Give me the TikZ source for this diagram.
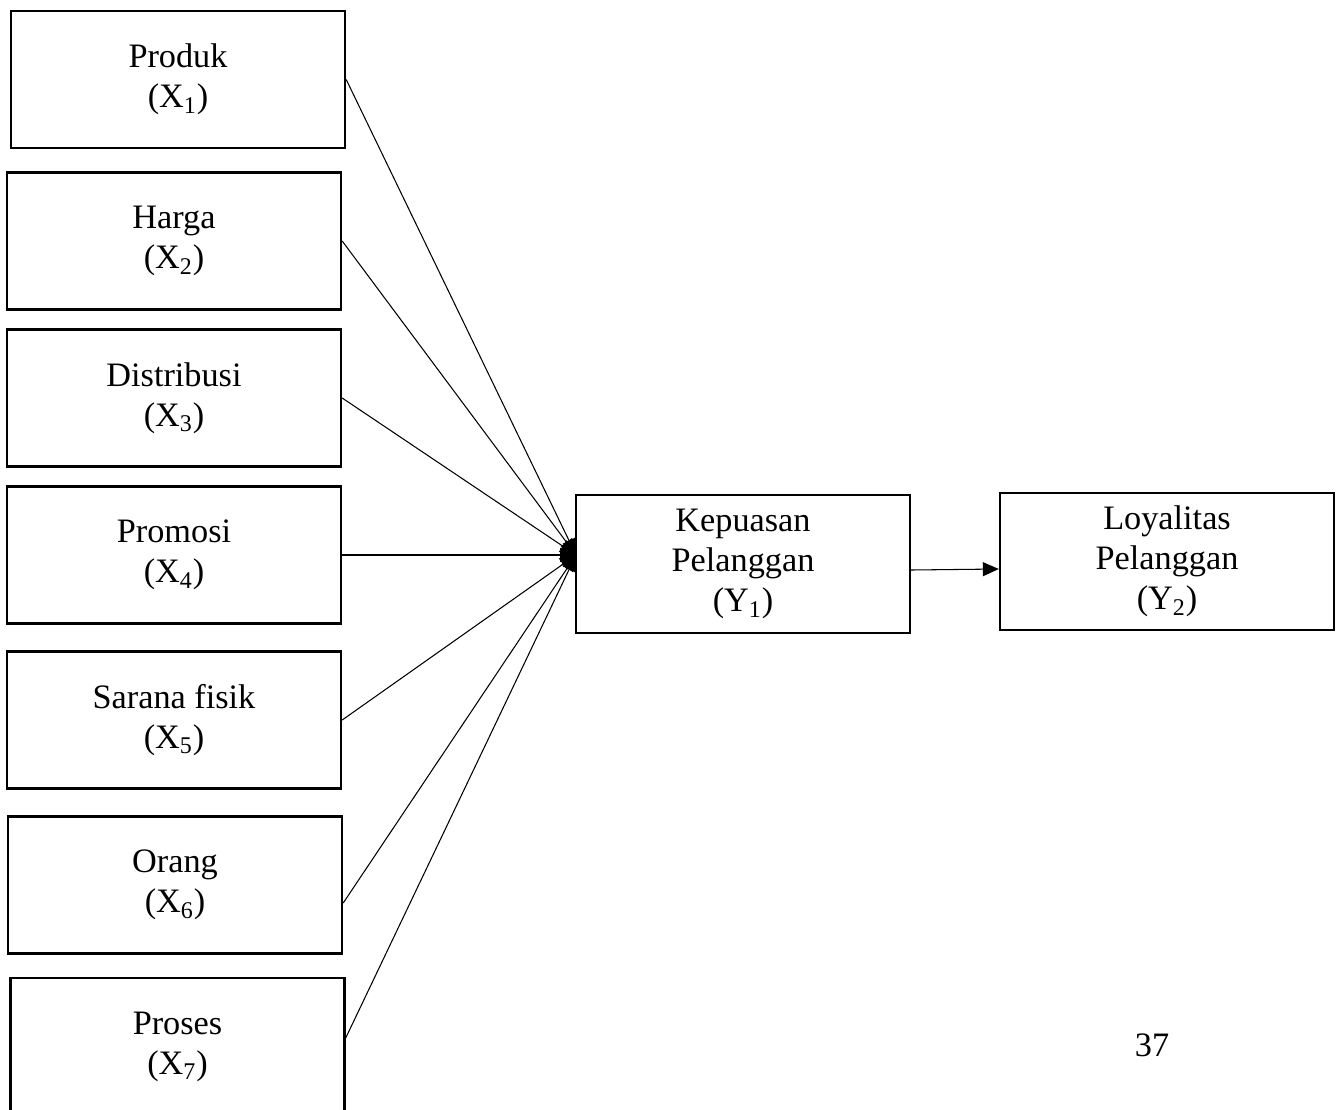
\documentclass[tikz,border=0pt]{standalone}
\usepackage{fontspec}
\setmainfont{Liberation Serif}
\usepackage{tikz}
\usetikzlibrary{arrows.meta}

\begin{document}
\begin{tikzpicture}[x=0.02cm, y=-0.02cm,
    var/.style = {draw, line width=1.4pt, minimum width=6.68cm, minimum height=2.74cm,
                  align=center, font=\fontsize{19.5}{22.8}\selectfont},
    link/.style = {line width=0.6pt, -{Triangle[length=0.32cm, width=0.28cm]}}]
\useasboundingbox (0,0) rectangle (1341,1109);
\node[var] (X_1) at (178,79.5) {Produk\\(X\textsubscript{1})};
\node[var] (X_2) at (174,241) {Harga\\(X\textsubscript{2})};
\node[var] (X_3) at (174,398) {Distribusi\\(X\textsubscript{3})};
\node[var] (X_4) at (174,555) {Promosi\\(X\textsubscript{4})};
\node[var] (X_5) at (174,720) {Sarana fisik\\(X\textsubscript{5})};
\node[var] (X_6) at (175,885) {Orang\\(X\textsubscript{6})};
\node[var] (X_7) at (177.5,1046.5) {Proses\\(X\textsubscript{7})};
\node[var, minimum height=2.76cm] (Y_1) at (743,564) {Kepuasan\\Pelanggan\\(Y\textsubscript{1})};
\node[var] (Y_2) at (1167,561.5) {Loyalitas\\Pelanggan\\(Y\textsubscript{2})};
\node[font=\fontsize{19.5}{22.8}\selectfont] (page) at (1152,1045) {37};
\coordinate (hub) at (576,555);

\path[link] (X_1.east) edge (hub)
    (X_2.east) edge (hub)
    (X_3.east) edge (hub)
    (X_4.east) edge (hub)
    (X_5.east) edge (hub)
    ([yshift=-0.36cm]X_6.east) edge (hub)
    ([yshift=0.17cm]X_7.east) edge (hub)
    ([yshift=-0.12cm]Y_1.east) edge ([yshift=-0.15cm]Y_2.west);
\end{tikzpicture}
\end{document}
